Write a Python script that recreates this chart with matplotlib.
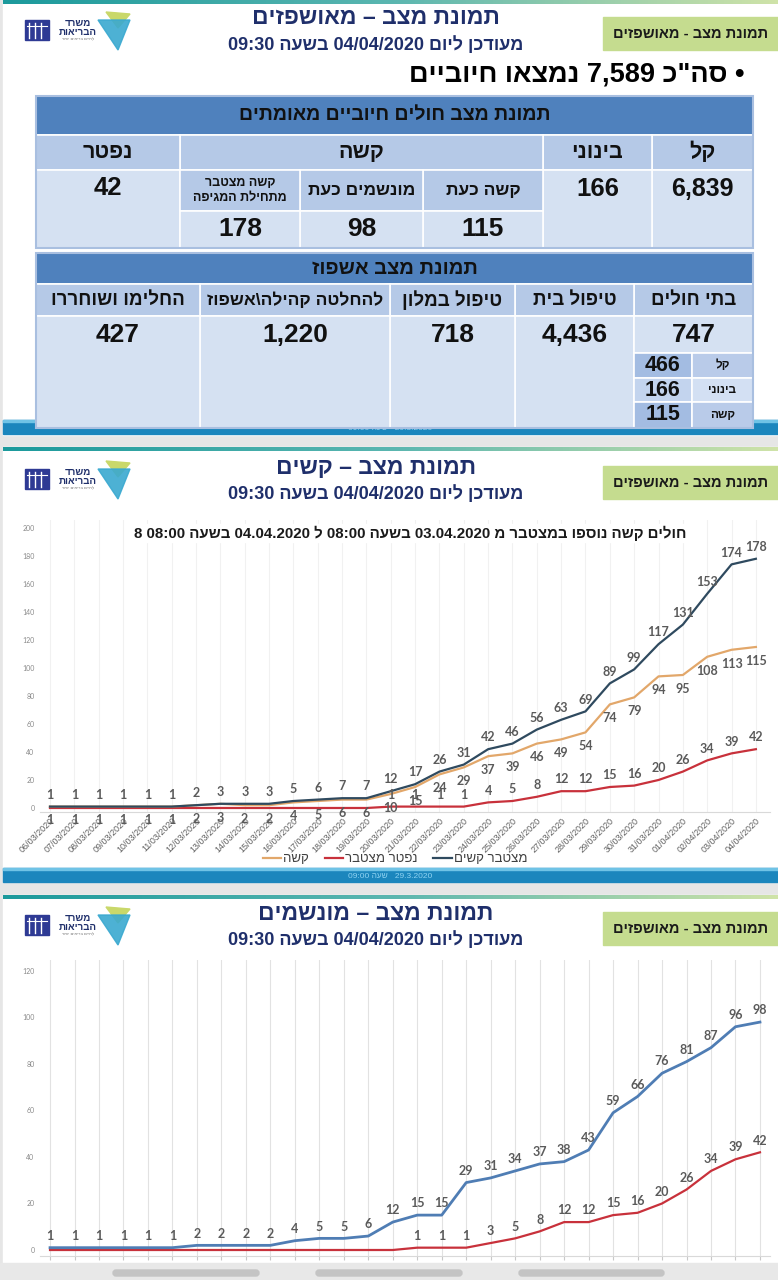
import matplotlib
matplotlib.use("Agg")
import matplotlib.pyplot as plt
from matplotlib.patches import Rectangle, Polygon, FancyBboxPatch
from matplotlib.colors import LinearSegmentedColormap
import numpy as np

plt.rcParams['font.family'] = ['Liberation Sans', 'DejaVu Sans']

# ---- data ----
dates = ['06/03/2020', '07/03/2020', '08/03/2020', '09/03/2020', '10/03/2020',
         '11/03/2020', '12/03/2020', '13/03/2020', '14/03/2020', '15/03/2020',
         '16/03/2020', '17/03/2020', '18/03/2020', '19/03/2020', '20/03/2020',
         '21/03/2020', '22/03/2020', '23/03/2020', '24/03/2020', '25/03/2020',
         '26/03/2020', '27/03/2020', '28/03/2020', '29/03/2020', '30/03/2020',
         '31/03/2020', '01/04/2020', '02/04/2020', '03/04/2020', '04/04/2020']
cum_serious = [1, 1, 1, 1, 1, 1, 2, 3, 3, 3, 5, 6, 7, 7, 12, 17, 26, 31, 42, 46,
               56, 63, 69, 89, 99, 117, 131, 153, 174, 178]
serious_now = [1, 1, 1, 1, 1, 1, 2, 3, 2, 2, 4, 5, 6, 6, 10, 15, 24, 29, 37, 39,
               46, 49, 54, 74, 79, 94, 95, 108, 113, 115]
deaths_serious = [0, 0, 0, 0, 0, 0, 0, 0, 0, 0, 0, 0, 0, 0, 1, 1, 1, 1, 4, 5,
                  8, 12, 12, 15, 16, 20, 26, 34, 39, 42]
ventilated = [1, 1, 1, 1, 1, 1, 2, 2, 2, 2, 4, 5, 5, 6, 12, 15, 15, 29, 31, 34,
              37, 38, 43, 59, 66, 76, 81, 87, 96, 98]
deaths_vent = [0, 0, 0, 0, 0, 0, 0, 0, 0, 0, 0, 0, 0, 0, 0, 1, 1, 1, 3, 5,
               8, 12, 12, 15, 16, 20, 26, 34, 39, 42]

# table 1
t1_title = 'תמונת מצב חולים חיוביים מאומתים'
t1_heads = ['קל', 'בינוני', 'קשה', 'נפטר']
t1_vals = ['6,839', '166', '42']
t1_sub_heads = ['קשה כעת', 'מונשמים כעת', 'קשה מצטבר\nמתחילת המגיפה']
t1_sub_vals = ['115', '98', '178']
# table 2
t2_title = 'תמונת מצב אשפוז'
t2_heads = ['בתי חולים', 'טיפול בית', 'טיפול במלון', 'להחלטה קהילה\\אשפוז', 'החלימו ושוחררו']
t2_vals = ['747', '4,436', '718', '1,220', '427']
hosp_labels = ['קל', 'בינוני', 'קשה']
hosp_vals = ['466', '166', '115']

total_line = '• סה"כ 7,589 נמצאו חיוביים'
subtitle = 'מעודכן ליום 04/04/2020 בשעה 09:30'
tag = 'תמונת מצב - מאושפזים'
footer = '29.3.2020   שעה 09:00'
chart2_title = 'חולים קשה נוספו במצטבר מ 03.04.2020 בשעה 08:00 ל 04.04.2020 בשעה 08:00 8'


def heb(s):
    # matplotlib has no bidi: turn logical RTL text into visual order
    out = []
    for line in s.split('\n'):
        toks = line.split(' ')
        toks = [t[::-1] if any('\u0590' <= c <= '\u05ff' for c in t) else t for t in toks]
        out.append(' '.join(reversed(toks)))
    return '\n'.join(out)


W, H = 778, 1280
fig = plt.figure(figsize=(W / 100, H / 100), dpi=100)
fig.patch.set_facecolor('#e6e6e6')
bg = fig.add_axes([0, 0, 1, 1])
bg.set_xlim(0, W)
bg.set_ylim(H, 0)
bg.axis('off')

NAVY = '#1f2f6b'
grad = np.linspace(0, 1, 256).reshape(1, -1)
teal_cm = LinearSegmentedColormap.from_list('t', ['#1c9a9c', '#5ab6b0', '#cfe3a8'])


def slide(y0, y1, bar_y):
    bg.add_patch(Rectangle((3, y0), W - 3, y1 - y0, color='white', zorder=0))
    bg.imshow(grad, cmap=teal_cm, aspect='auto', extent=(3, W, y0 + 4, y0), zorder=1)
    if bar_y is not None:
        bg.add_patch(Rectangle((3, bar_y), W - 3, 14, color='#1b86bd', zorder=1))
        bg.add_patch(Rectangle((3, bar_y), W - 3, 2, color='#6fc3e6', zorder=1))
        bg.text(390, bar_y + 8, heb(footer), ha='center', va='center', fontsize=6,
                color='#8fd3f2', zorder=1)


def logo(y):
    bg.add_patch(Rectangle((25, y + 6), 24, 20, color='#2e3a94', zorder=2))
    for xx in (29, 35, 41):
        bg.plot([xx, xx], [y + 9, y + 24], color='white', lw=1, zorder=3)
    bg.plot([27, 47], [y + 12, y + 12], color='white', lw=0.8, zorder=3)
    bg.text(78, y + 9, heb('משרד'), ha='center', va='center', fontsize=7,
            fontweight='bold', color=NAVY, zorder=3)
    bg.text(78, y + 18, heb('הבריאות'), ha='center', va='center', fontsize=7,
            fontweight='bold', color=NAVY, zorder=3)
    bg.text(78, y + 26, heb('לחיים בריאים יותר'), ha='center', va='center', fontsize=3,
            color='#777777', zorder=3)
    bg.add_patch(Polygon([(106, y - 2), (118, y + 14), (130, y + 0)], color='#c9d86a', zorder=2))
    bg.add_patch(Polygon([(98, y + 6), (130, y + 6), (118, y + 36)], color='#3aa9d0', zorder=3, alpha=0.9))


def header(y, title):
    logo(y + 14)
    bg.text(376, y + 18, heb(title), ha='center', va='center', fontsize=16.5,
            fontweight='bold', color=NAVY, zorder=3)
    bg.text(376, y + 45, heb(subtitle), ha='center', va='center', fontsize=13,
            fontweight='bold', color=NAVY, zorder=3)
    bg.add_patch(Rectangle((603, y + 17), W - 603, 33, color='#c5dc8f', zorder=2))
    bg.text(691, y + 34, heb(tag), ha='center', va='center', fontsize=10.5,
            fontweight='bold', color='#1a1a1a', zorder=3)


def cell(x0, y0, x1, y1, color, txt=None, size=12, ty=None, weight='bold'):
    bg.add_patch(Rectangle((x0, y0), x1 - x0, y1 - y0, facecolor=color,
                           edgecolor='white', lw=1.2, zorder=4))
    if txt is not None:
        cy = (y0 + y1) / 2 if ty is None else ty
        bg.text((x0 + x1) / 2, cy, heb(txt), ha='center', va='center', fontsize=size,
                fontweight=weight, color='#111111', zorder=5, linespacing=1.3)


# ---- slide 1 ----
slide(0, 435, 420)
header(0, 'תמונת מצב – מאושפזים')
bg.text(745, 74, heb(total_line), ha='right', va='center', fontsize=19.5,
        fontweight='bold', color='black', zorder=3)

HEAD = '#4f81bd'
MID = '#b5c9e7'
LIGHT = '#d5e1f2'
# table 1
bg.add_patch(Rectangle((36, 96), 717, 152, facecolor='none', edgecolor='#a9bfe0', lw=1.5, zorder=6))
cell(36, 96, 753, 135, HEAD, t1_title, 14)
cols1 = [(652, 753), (543, 652), (180, 543), (36, 180)]
for (a, b), t in zip(cols1, t1_heads):
    cell(a, 135, b, 170, MID, t, 15.5)
cell(652, 170, 753, 248, LIGHT, t1_vals[0], 18, ty=189)
cell(543, 170, 652, 248, LIGHT, t1_vals[1], 18.5, ty=189)
cell(36, 170, 180, 248, LIGHT, t1_vals[2], 18.5, ty=188)
subcols = [(423, 543), (300, 423), (180, 300)]
for (a, b), t, v, s in zip(subcols, t1_sub_heads, t1_sub_vals, [12.5, 12.5, 9]):
    cell(a, 170, b, 211, MID, t, s)
    cell(a, 211, b, 248, LIGHT, v, 19)

# table 2
bg.add_patch(Rectangle((36, 253), 717, 175, facecolor='none', edgecolor='#a9bfe0', lw=1.5, zorder=6))
cell(36, 253, 753, 284, HEAD, t2_title, 14.5)
cols2 = [(634, 753), (515, 634), (390, 515), (200, 390), (36, 200)]
for (a, b), t, s in zip(cols2, t2_heads, [13.5, 13.5, 13.5, 12.5, 13.5]):
    cell(a, 284, b, 316, MID, t, s)
for (a, b), v in zip(cols2[1:], t2_vals[1:]):
    cell(a, 316, b, 428, LIGHT, v, 19, ty=335)
cell(634, 316, 753, 353, LIGHT, t2_vals[0], 19, ty=335)
rows = [(353, 378), (378, 402), (402, 428)]
for i, ((a, b), lab, v) in enumerate(zip(rows, hosp_labels, hosp_vals)):
    shade = '#a3bce2' if i != 1 else '#c3d4ee'
    shade2 = '#b9cbe9' if i != 1 else '#d3e0f3'
    cell(634, a, 692, b, shade, v, 15.5)
    cell(692, a, 753, b, shade2, lab, 8.5)

# ---- slide 2 ----
slide(447, 882, 868)
header(449, 'תמונת מצב – קשים')
# ---- slide 3 ----
slide(895, 1280, None)
header(895, 'תמונת מצב – מונשמים')

C_CUM = '#2f4a5f'
C_NOW = '#e2a76a'
C_DEAD = '#c8313b'
LBL = dict(fontsize=9, fontweight='bold', color='#5a5a5a', ha='center', va='center',
           family=['Lato', 'DejaVu Sans'])


def px_axes(x0, y0, x1, y1):
    return fig.add_axes([x0 / W, 1 - y1 / H, (x1 - x0) / W, (y1 - y0) / H])


def style(ax, ymax, step, gridc):
    ax.set_facecolor('none')
    for s in ('top', 'right', 'left'):
        ax.spines[s].set_visible(False)
    ax.spines['bottom'].set_color('#d9d9d9')
    ax.set_yticks(np.arange(0, ymax + 1, step))
    ax.tick_params(axis='y', length=0, labelsize=5, labelcolor='#8a8a8a', pad=4)
    for lab in ax.get_yticklabels():
        lab.set_family(['Lato', 'DejaVu Sans'])
    ax.set_xticks(range(len(dates)))
    ax.grid(axis='x', color=gridc, lw=0.8)
    ax.set_axisbelow(True)


def labels(ax, xs, ys, dy, skip_zero=False):
    for x, y in zip(xs, ys):
        if skip_zero and y == 0:
            continue
        ax.annotate(str(y), (x, y), xytext=(0, dy), textcoords='offset points', **LBL)


x = np.arange(len(dates))

# chart 2: serious
ax2 = px_axes(40, 520, 770, 812)
style(ax2, 200, 20, '#f1f1f1')
ax2.set_xlim(-0.41, 29.58)
ax2.set_ylim(-2.86, 205.7)
l_dead, = ax2.plot(x, deaths_serious, color=C_DEAD, lw=1.6, label=heb('נפטר מצטבר'))
l_now, = ax2.plot(x, serious_now, color=C_NOW, lw=1.6, label=heb('קשה'))
l_cum, = ax2.plot(x, cum_serious, color=C_CUM, lw=1.6, label=heb('מצטבר קשים'))
labels(ax2, x, cum_serious, 8.5)
labels(ax2, x, serious_now, -10)
labels(ax2, x, deaths_serious, 8.5, skip_zero=True)
ax2.set_xticklabels(dates, rotation=45, ha='right', rotation_mode='anchor',
                    fontsize=6.5, color='#606060')
ax2.tick_params(axis='x', length=0, pad=3)
fig.legend(handles=[l_now, l_dead, l_cum], loc='center', bbox_to_anchor=(395 / W, 1 - 859 / H),
           ncol=3, frameon=False, fontsize=9.5, handlelength=1.4, handletextpad=0.15,
           columnspacing=1.2, labelcolor='#404040')

# chart 3: ventilated
ax3 = px_axes(40, 960, 770, 1256)
style(ax3, 120, 20, '#e2e2e2')
ax3.set_xlim(-0.41, 29.41)
ax3.set_ylim(-2.58, 124.7)
ax3.plot(x, deaths_vent, color=C_DEAD, lw=1.6)
ax3.plot(x, ventilated, color='#4f7db4', lw=2)
labels(ax3, x, ventilated, 8.5)
labels(ax3, x, deaths_vent, 8.5, skip_zero=True)
ax3.tick_params(axis='x', length=3, color='#c8c8c8', labelbottom=False)

# overlay: chart 2 title above the grid, phone screen bottom
ov = fig.add_axes([0, 0, 1, 1], zorder=10)
ov.set_xlim(0, W)
ov.set_ylim(H, 0)
ov.axis('off')
ov.add_patch(Rectangle((125, 524), 570, 18, color='white'))
ov.text(410, 533, heb(chart2_title), ha='center', va='center', fontsize=10.8,
        fontweight='bold', color='#1a1a1a')
ov.add_patch(Rectangle((0, 1263), W, 17, color='#e8e8e8'))
for a, b in [(113, 259), (316, 462), (519, 664)]:
    ov.add_patch(FancyBboxPatch((a, 1270), b - a, 6, boxstyle='round,pad=0,rounding_size=3',
                                color='#c4c4c4'))

fig.savefig('out.png', dpi=100, facecolor=fig.get_facecolor())
